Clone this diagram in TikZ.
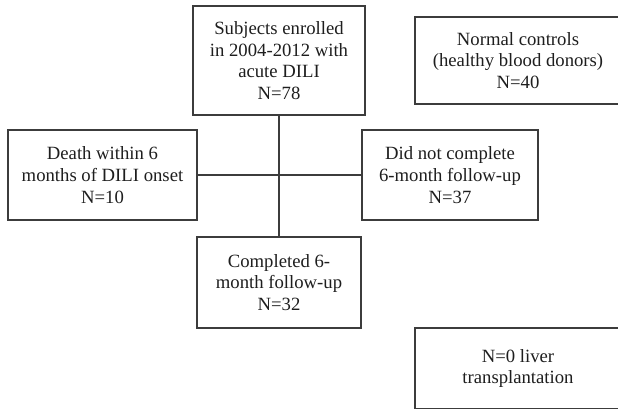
\documentclass[tikz,border=0pt]{standalone}
\usepackage{fontspec}
\setmainfont{Liberation Serif}
\usepackage{tikz}
\usetikzlibrary{positioning}
\definecolor{linegray}{HTML}{3C3C3C}
\definecolor{textdark}{HTML}{1E1E1E}
\begin{document}
\begin{tikzpicture}[x=1pt,y=-1pt,box/.style={draw=linegray,line width=1.5pt,align=center,
 text=textdark,inner sep=0pt},font=\fontsize{18.7}{21.7}\selectfont]
\useasboundingbox (0,0) rectangle (618,409);
\clip (0,0) rectangle (618,409);
\node[box,minimum width=172,minimum height=109] (enr) at (279,60.5) {Subjects enrolled\\in 2004-2012 with\\acute DILI\\N=78};
\node[box,minimum width=206,minimum height=87] (ctrl) at (518,60.5) {Normal controls\\(healthy blood donors)\\N=40};
\node[box,minimum width=189,minimum height=90] (death) at (102.5,175) {Death within 6\\months of DILI onset\\N=10};
\node[box,minimum width=176,minimum height=90] (nocomp) at (450,175) {Did not complete\\6-month follow-up\\N=37};
\node[box,minimum width=164,minimum height=91] (comp) at (279,282.5) {Completed 6-\\month follow-up\\N=32};
\node[box,minimum width=206,minimum height=81] (liver) at (518,368.5) {N=0 liver\\transplantation};
\draw[linegray,line width=1.5pt] (enr) -- (comp);
\draw[linegray,line width=1.5pt] (death) -- (nocomp);
\end{tikzpicture}
\end{document}
